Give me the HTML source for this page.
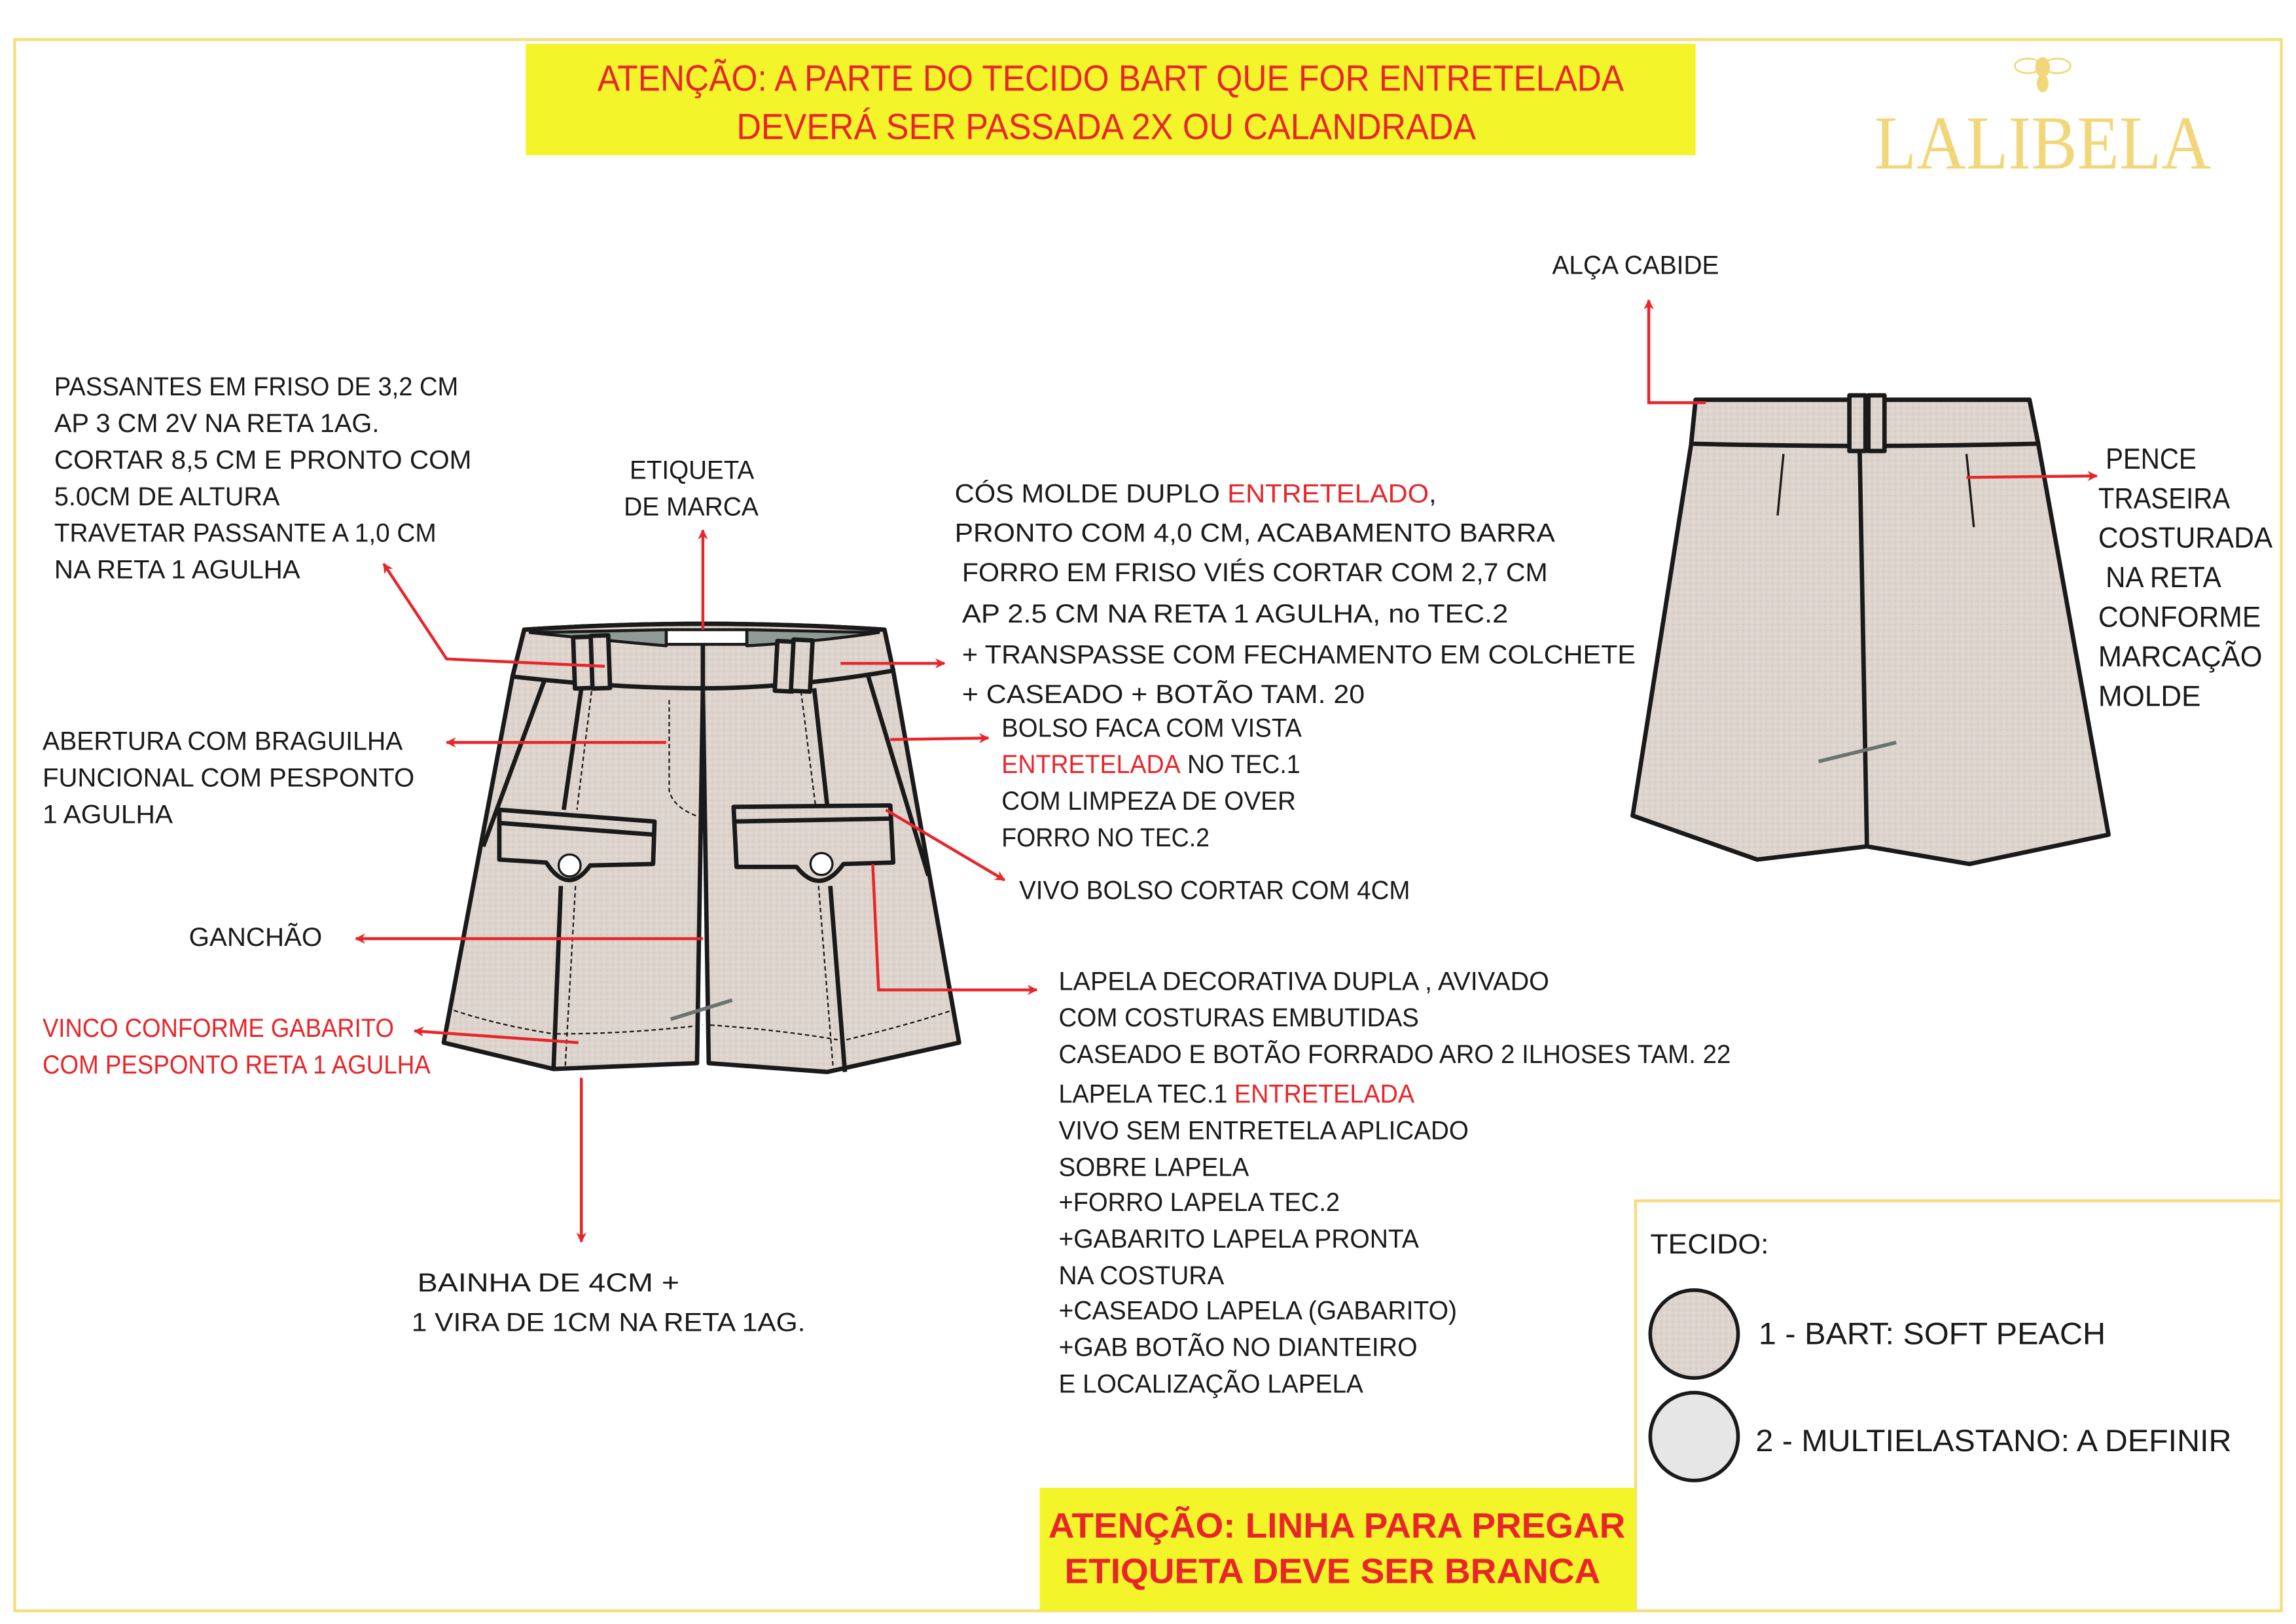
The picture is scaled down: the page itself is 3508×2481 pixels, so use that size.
<!DOCTYPE html>
<html><head><meta charset="utf-8">
<style>
html,body{margin:0;padding:0;background:#fff;}
svg{display:block;}
text{font-family:"Liberation Sans",sans-serif;}
text.serif{font-family:"Liberation Serif",serif;}
</style></head>
<body>
<svg width="3508" height="2481" viewBox="0 0 1568 1109" xmlns="http://www.w3.org/2000/svg">
<defs>
<marker id="ar" viewBox="0 0 10 10" refX="9" refY="5" markerWidth="7" markerHeight="7" markerUnits="userSpaceOnUse" orient="auto">
<path d="M0,0 L10,5 L0,10 L3,5 Z" fill="#e8262a"/></marker>
<pattern id="fab" width="4" height="4" patternUnits="userSpaceOnUse">
<rect width="4" height="4" fill="#ddd4ce"/><rect width="1" height="1" fill="#e8e0dc"/><rect x="2" y="2" width="1" height="1" fill="#cfc6c0"/></pattern>
</defs>
<rect width="1568" height="1109" fill="#fff"/>
<rect x="10" y="27" width="1548" height="1073" fill="none" stroke="#f5de80" stroke-width="2"/>

<rect x="359" y="30" width="799" height="76" fill="#f4f42a"/>
<g fill="#e8262a" font-size="25">
<text x="408" y="62" textLength="701" lengthAdjust="spacingAndGlyphs">ATENÇÃO: A PARTE DO TECIDO BART QUE FOR ENTRETELADA</text>
<text x="503" y="95" textLength="505" lengthAdjust="spacingAndGlyphs">DEVERÁ SER PASSADA 2X OU CALANDRADA</text>
</g>

<g fill="#f2d77a">
<ellipse cx="1395" cy="46" rx="5" ry="7"/><ellipse cx="1395" cy="57" rx="4" ry="6"/>
<ellipse cx="1385" cy="45" rx="9" ry="5" fill="none" stroke="#f2d77a" stroke-width="1.2"/>
<ellipse cx="1405" cy="45" rx="9" ry="5" fill="none" stroke="#f2d77a" stroke-width="1.2"/>
<text class="serif" x="1280" y="115" font-size="52" textLength="230" lengthAdjust="spacingAndGlyphs">LALIBELA</text>
</g>

<g font-size="18" fill="#1a1a1a">
<text x="37" y="270" textLength="276" lengthAdjust="spacingAndGlyphs">PASSANTES EM FRISO DE 3,2 CM</text>
<text x="37" y="295" textLength="222" lengthAdjust="spacingAndGlyphs">AP 3 CM 2V NA RETA 1AG.</text>
<text x="37" y="320" textLength="285" lengthAdjust="spacingAndGlyphs">CORTAR 8,5  CM  E  PRONTO COM</text>
<text x="37" y="345" textLength="154" lengthAdjust="spacingAndGlyphs">5.0CM DE ALTURA</text>
<text x="37" y="370" textLength="261" lengthAdjust="spacingAndGlyphs">TRAVETAR PASSANTE A 1,0 CM</text>
<text x="37" y="395" textLength="168" lengthAdjust="spacingAndGlyphs">NA RETA 1 AGULHA</text>
<text x="430" y="327" textLength="85" lengthAdjust="spacingAndGlyphs">ETIQUETA</text>
<text x="426" y="352" textLength="92" lengthAdjust="spacingAndGlyphs">DE MARCA</text>
<text x="652" y="343" textLength="329" lengthAdjust="spacingAndGlyphs">CÓS MOLDE DUPLO <tspan fill="#e8262a">ENTRETELADO</tspan>,</text>
<text x="652" y="370" textLength="410" lengthAdjust="spacingAndGlyphs">PRONTO COM 4,0 CM, ACABAMENTO BARRA</text>
<text x="657" y="397" textLength="400" lengthAdjust="spacingAndGlyphs">FORRO EM FRISO VIÉS CORTAR COM 2,7 CM</text>
<text x="657" y="425" textLength="373" lengthAdjust="spacingAndGlyphs">AP 2.5 CM  NA RETA 1 AGULHA, no TEC.2</text>
<text x="657" y="453" textLength="460" lengthAdjust="spacingAndGlyphs">+ TRANSPASSE COM FECHAMENTO EM COLCHETE</text>
<text x="657" y="480" textLength="275" lengthAdjust="spacingAndGlyphs">+ CASEADO + BOTÃO TAM. 20</text>
<text x="684" y="503" textLength="205" lengthAdjust="spacingAndGlyphs">BOLSO FACA COM VISTA</text>
<text x="684" y="528" textLength="204" lengthAdjust="spacingAndGlyphs"><tspan fill="#e8262a">ENTRETELADA</tspan> NO TEC.1</text>
<text x="684" y="553" textLength="201" lengthAdjust="spacingAndGlyphs">COM LIMPEZA DE OVER</text>
<text x="684" y="578" textLength="142" lengthAdjust="spacingAndGlyphs">FORRO NO TEC.2</text>
<text x="696" y="614" textLength="267" lengthAdjust="spacingAndGlyphs">VIVO BOLSO CORTAR COM 4CM</text>
<text x="29" y="512" textLength="246" lengthAdjust="spacingAndGlyphs">ABERTURA COM BRAGUILHA</text>
<text x="29" y="537" textLength="254" lengthAdjust="spacingAndGlyphs">FUNCIONAL COM  PESPONTO</text>
<text x="29" y="562" textLength="89" lengthAdjust="spacingAndGlyphs">1 AGULHA</text>
<text x="129" y="646" textLength="91" lengthAdjust="spacingAndGlyphs">GANCHÃO</text>
<text x="29" y="708" fill="#e8262a" textLength="240" lengthAdjust="spacingAndGlyphs">VINCO CONFORME GABARITO</text>
<text x="29" y="733" fill="#e8262a" textLength="265" lengthAdjust="spacingAndGlyphs">COM PESPONTO RETA 1 AGULHA</text>
<text x="285" y="882" textLength="179" lengthAdjust="spacingAndGlyphs">BAINHA DE 4CM +</text>
<text x="281" y="909" textLength="269" lengthAdjust="spacingAndGlyphs">1 VIRA DE 1CM NA RETA 1AG.</text>
<text x="723" y="676" textLength="335" lengthAdjust="spacingAndGlyphs">LAPELA DECORATIVA DUPLA , AVIVADO</text>
<text x="723" y="701" textLength="246" lengthAdjust="spacingAndGlyphs">COM COSTURAS EMBUTIDAS</text>
<text x="723" y="726" textLength="459" lengthAdjust="spacingAndGlyphs">CASEADO E BOTÃO FORRADO ARO 2 ILHOSES TAM. 22</text>
<text x="723" y="753" textLength="243" lengthAdjust="spacingAndGlyphs">LAPELA TEC.1 <tspan fill="#e8262a">ENTRETELADA</tspan></text>
<text x="723" y="778" textLength="280" lengthAdjust="spacingAndGlyphs">VIVO SEM ENTRETELA APLICADO</text>
<text x="723" y="803" textLength="130" lengthAdjust="spacingAndGlyphs">SOBRE  LAPELA</text>
<text x="723" y="827" textLength="192" lengthAdjust="spacingAndGlyphs">+FORRO LAPELA TEC.2</text>
<text x="723" y="852" textLength="246" lengthAdjust="spacingAndGlyphs">+GABARITO LAPELA PRONTA</text>
<text x="723" y="877" textLength="113" lengthAdjust="spacingAndGlyphs">NA COSTURA</text>
<text x="723" y="901" textLength="272" lengthAdjust="spacingAndGlyphs">+CASEADO LAPELA (GABARITO)</text>
<text x="723" y="926" textLength="245" lengthAdjust="spacingAndGlyphs">+GAB BOTÃO NO DIANTEIRO</text>
<text x="723" y="951" textLength="208" lengthAdjust="spacingAndGlyphs">E LOCALIZAÇÃO LAPELA</text>
<text x="1060" y="187" textLength="114" lengthAdjust="spacingAndGlyphs">ALÇA CABIDE</text>
<text x="1438" y="320" font-size="20" textLength="62" lengthAdjust="spacingAndGlyphs">PENCE</text>
<text x="1433" y="347" font-size="20" textLength="90" lengthAdjust="spacingAndGlyphs">TRASEIRA</text>
<text x="1433" y="374" font-size="20" textLength="119" lengthAdjust="spacingAndGlyphs">COSTURADA</text>
<text x="1438" y="401" font-size="20" textLength="79" lengthAdjust="spacingAndGlyphs">NA RETA</text>
<text x="1433" y="428" font-size="20" textLength="111" lengthAdjust="spacingAndGlyphs">CONFORME</text>
<text x="1433" y="455" font-size="20" textLength="112" lengthAdjust="spacingAndGlyphs">MARCAÇÃO</text>
<text x="1433" y="482" font-size="20" textLength="70" lengthAdjust="spacingAndGlyphs">MOLDE</text>
</g>

<path d="M1117,1100 V820 H1558" fill="none" stroke="#f5de80" stroke-width="2"/>
<g font-size="19" fill="#1a1a1a">
<text x="1127" y="856" textLength="81" lengthAdjust="spacingAndGlyphs">TECIDO:</text>
<text x="1201" y="918" font-size="21" textLength="237" lengthAdjust="spacingAndGlyphs">1 - BART:  SOFT PEACH</text>
<text x="1199" y="991" font-size="21" textLength="325" lengthAdjust="spacingAndGlyphs">2 - MULTIELASTANO:  A DEFINIR</text>
</g>
<circle cx="1157" cy="911" r="30" fill="url(#fab)" stroke="#1a1a1a" stroke-width="2.5"/>
<circle cx="1157" cy="981" r="30" fill="#e6e6e6" stroke="#1a1a1a" stroke-width="2.5"/>

<rect x="710" y="1016" width="407" height="84" fill="#f4f42a"/>
<g fill="#e8262a" font-size="24" font-weight="bold">
<text x="716" y="1050" textLength="394" lengthAdjust="spacingAndGlyphs">ATENÇÃO: LINHA PARA PREGAR</text>
<text x="727" y="1081" textLength="366" lengthAdjust="spacingAndGlyphs">ETIQUETA DEVE SER BRANCA</text>
</g>

<!-- FRONT SHORTS -->
<g stroke="#1a1a1a" stroke-width="3" stroke-linejoin="round" fill="url(#fab)">
<path d="M358,430 Q480,422 604,430 L610,458 L655,712 L565,732 L484,726 L480,470 L476,726 L378,730 L303,712 L350,462 Z"/>
<path d="M358,430 Q480,422 604,430 L610,458 Q540,470 480,470 Q420,470 350,462 Z"/>
<path d="M362,432 Q420,438 455,441 L455,430 Z" fill="#8f9a96" stroke-width="2"/>
<path d="M510,441 Q560,438 600,432 L510,430 Z" fill="#8f9a96" stroke-width="2"/>
<rect x="455" y="430" width="55" height="10" fill="#fff" stroke-width="2"/>
<path d="M480,440 L480,470" fill="none"/>
<rect x="392" y="435" width="13" height="35" transform="rotate(-2 398 452)"/>
<rect x="404" y="434" width="12" height="36" transform="rotate(-2 410 452)"/>
<rect x="530" y="438" width="12" height="34" transform="rotate(3 536 455)"/>
<rect x="541" y="437" width="13" height="35" transform="rotate(3 547 455)"/>
<path d="M372,464 L330,578" fill="none"/>
<path d="M593,462 L634,598" fill="none"/>
<path d="M397,470 L385,553 M383,605 L378,730" fill="none"/>
<path d="M556,470 L565,551 M567,605 L577,732" fill="none"/>
<path d="M341,553 L447,561 L446,590 L403,591 Q388,612 373,589 L341,587 Z"/>
<path d="M341,562 L447,570" fill="none"/>
<path d="M501,551 L608,550 L610,589 L576,590 Q560,612 544,592 L503,592 Z"/>
<path d="M501,561 L609,559" fill="none"/>
</g>
<g fill="#fff" stroke="#1a1a1a" stroke-width="1.5">
<circle cx="389" cy="591" r="7.5"/><circle cx="561" cy="590" r="7.5"/>
</g>
<g fill="none" stroke="#1a1a1a" stroke-width="1" stroke-dasharray="3,2">
<path d="M457,478 L457,540 Q460,552 478,558"/>
<path d="M310,690 Q340,700 378,706 M380,706 Q430,706 480,700 M485,700 Q530,703 572,710 M578,710 Q620,700 650,690"/>
<path d="M404,472 L394,553 M393,605 L386,728"/>
<path d="M547,472 L557,551 M559,605 L569,730"/>
</g>
<path d="M458,696 L500,683" stroke="#6b7370" stroke-width="2.5"/>

<!-- BACK SHORTS -->
<g stroke="#1a1a1a" stroke-width="3" stroke-linejoin="round" fill="url(#fab)">
<path d="M1158,273 L1386,273 L1392,303 L1440,570 L1345,590 L1275,578 L1200,587 L1115,557 L1155,303 Z"/>
<path d="M1158,273 L1386,273 L1392,303 Q1270,306 1155,303 Z"/>
<path d="M1270,305 L1275,578" fill="none"/>
<rect x="1263" y="270" width="11" height="38"/>
<rect x="1276" y="270" width="11" height="38"/>
</g>
<path d="M1218,310 L1214,352 M1343,310 L1348,360" stroke="#1a1a1a" stroke-width="1.5" fill="none"/>
<path d="M1242,520 L1295,507" stroke="#6b7370" stroke-width="2.5"/>

<g stroke="#e8262a" stroke-width="2" fill="none" marker-end="url(#ar)">
<path d="M413,455 L305,450 L262,385"/>
<path d="M480,430 L480,362"/>
<path d="M455,507 L305,507"/>
<path d="M574,453 L645,453"/>
<path d="M608,505 L675,504"/>
<path d="M605,553 L686,601"/>
<path d="M480,641 L243,641"/>
<path d="M395,712 L283,704"/>
<path d="M596,590 L600,676 L708,676"/>
<path d="M397,736 L397,848"/>
<path d="M1165,275 L1126,275 L1126,205"/>
<path d="M1343,326 L1432,325"/>
</g>
</svg>
</body></html>
